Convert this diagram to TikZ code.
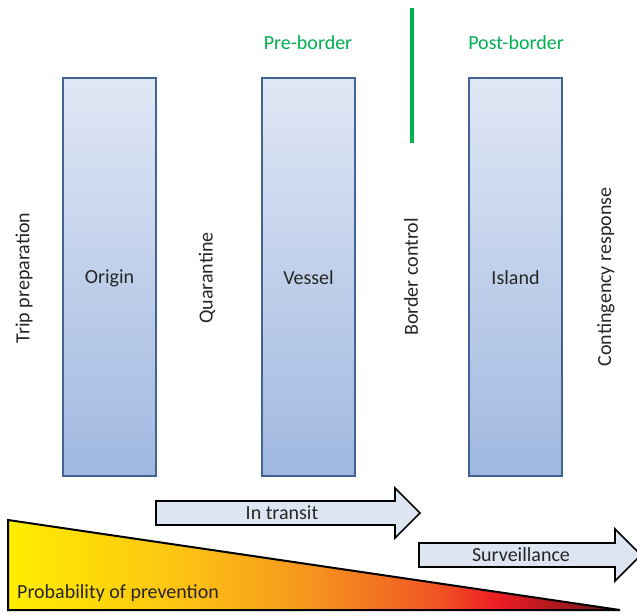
\documentclass[tikz,border=0pt]{standalone}
\usepackage{fontspec}
\setmainfont{Carlito}
\definecolor{boxtop}{RGB}{224,231,245}
\definecolor{boxbot}{RGB}{160,184,224}
\definecolor{boxline}{RGB}{66,100,148}
\definecolor{arrfill}{RGB}{221,228,242}
\definecolor{bordergreen}{RGB}{0,176,80}
\definecolor{txt}{RGB}{38,38,38}
\definecolor{s0}{RGB}{255,238,0}
\definecolor{s1}{RGB}{252,192,20}
\definecolor{s2}{RGB}{245,147,30}
\definecolor{s3}{RGB}{240,85,35}
\definecolor{s4}{RGB}{237,28,36}
\definecolor{s5}{RGB}{170,25,30}
\definecolor{s6}{RGB}{100,20,20}
\pgfdeclarehorizontalshading{probshade}{100bp}{color(0bp)=(s0); color(25bp)=(s0); color(40bp)=(s1); color(50bp)=(s2); color(60bp)=(s3); color(65bp)=(s4); color(70bp)=(s5); color(75bp)=(s6); color(100bp)=(s6)}
\tikzset{
  stage/.style={draw=boxline, line width=2pt, top color=boxtop, bottom color=boxbot},
  lbl/.style={text=txt, font=\fontsize{20}{24}\selectfont, inner sep=0pt},
  vlbl/.style={lbl, rotate=90},
  glbl/.style={text=bordergreen, font=\fontsize{20}{24}\selectfont, inner sep=0pt},
  bigarrow/.style={draw=black, line width=1.6pt, fill=arrfill, line join=miter},
}
\begin{document}
\begin{tikzpicture}[x=1pt,y=-1pt]
\useasboundingbox (0,0) rectangle (637,613);
% stage boxes
\path[stage] (63,78) rectangle (156,476);
\path[stage] (262,78) rectangle (355,476);
\path[stage] (469,78) rectangle (562,476);
\node[lbl] (origin) at (109.5,278) {Origin};
\node[lbl] (vessel) at (308.5,278) {Vessel};
\node[lbl] (island) at (515.5,278) {Island};
% vertical labels
\node[vlbl] (trip) at (24,278) {Trip preparation};
\node[vlbl] (quar) at (207,278) {Quarantine};
\node[vlbl] (bord) at (411,277) {Border control};
\node[vlbl] (cont) at (606,277) {Contingency response};
% border
\draw[bordergreen, line width=3.5pt] (412,8) -- (412,143);
\node[glbl] (pre) at (308,43) {Pre-border};
\node[glbl] (post) at (516,43) {Post-border};
% probability triangle
\path[shading=probshade, draw=black, line width=2pt, line join=miter] (8,520) -- (620,610) -- (8,610) -- cycle;
\node[lbl, anchor=west] (prob) at (17,593) {Probability of prevention};
% arrows
\path[bigarrow] (156,501) -- (395,501) -- (395,488) -- (420,513) -- (395,538) -- (395,525) -- (156,525) -- cycle;
\node[lbl] (transit) at (282,513) {In transit};
\path[bigarrow] (419,543) -- (615,543) -- (615,529) -- (641,555) -- (615,581) -- (615,567) -- (419,567) -- cycle;
\node[lbl] (surv) at (521,555) {Surveillance};
\end{tikzpicture}
\end{document}
